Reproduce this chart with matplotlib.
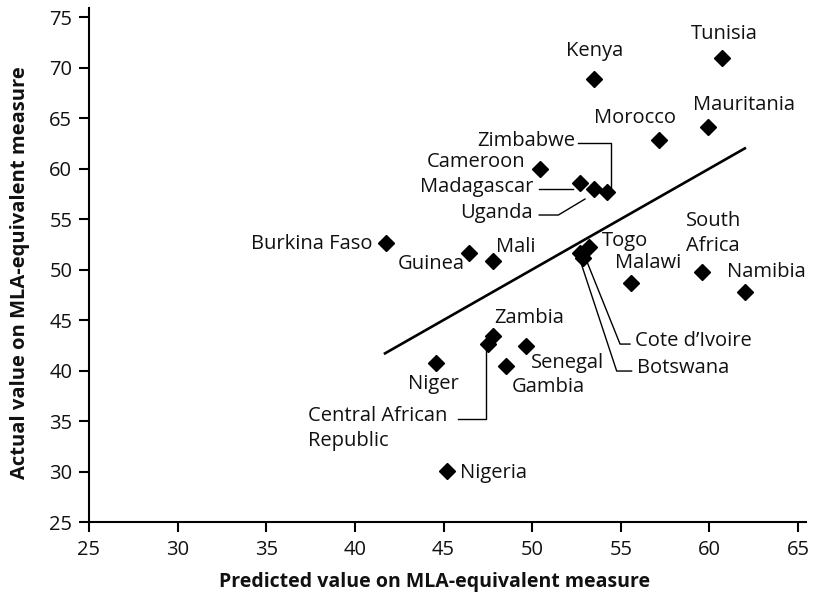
import matplotlib
matplotlib.use("Agg")
import matplotlib.pyplot as plt

plt.rcParams['font.family'] = ['Open Sans', 'DejaVu Sans']

countries = ["Tunisia", "Kenya", "Mauritania", "Morocco", "Zimbabwe", "Cameroon",
             "Madagascar", "Uganda", "Burkina Faso", "Guinea", "Mali", "Togo",
             "Cote d\u2019Ivoire", "Botswana", "Malawi", "South\nAfrica", "Namibia",
             "Zambia", "Central African\nRepublic", "Senegal", "Gambia", "Niger", "Nigeria"]
predicted = [60.7, 53.5, 59.9, 57.15, 54.2, 50.45, 52.7, 53.5, 41.75, 46.45, 47.8, 53.2,
             52.85, 52.7, 55.6, 59.6, 62.0, 47.8, 47.5, 49.65, 48.5, 44.6, 45.2]
actual = [70.9, 68.85, 64.1, 62.8, 57.7, 60.0, 58.6, 58.0, 52.65, 51.6, 50.8, 52.2,
          51.1, 51.6, 48.7, 49.8, 47.8, 43.4, 42.6, 42.4, 40.4, 40.7, 30.05]

# label anchor (data coords), horizontal alignment
label_pos = [(60.83, 73.32, 'center'), (53.5, 71.65, 'center'), (61.98, 66.3, 'center'),
             (55.78, 65.0, 'center'), (52.42, 62.72, 'right'), (46.81, 60.64, 'center'),
             (50.05, 58.17, 'right'), (50.05, 55.59, 'right'), (40.97, 52.55, 'right'),
             (44.32, 50.54, 'center'), (49.06, 52.26, 'center'), (55.24, 52.85, 'center'),
             (55.80, 42.92, 'left'), (55.92, 40.22, 'left'), (56.57, 50.61, 'center'),
             (58.68, 53.55, 'left'), (61.0, 49.75, 'left'), (49.85, 45.2, 'center'),
             (37.37, 34.28, 'left'), (52.02, 40.77, 'center'), (50.92, 38.40, 'center'),
             (44.41, 38.66, 'center'), (45.93, 29.88, 'left')]

# leader lines (data coords)
leaders = [
    [(52.61, 62.55), (54.43, 62.55), (54.43, 58.2)],            # Zimbabwe
    [(50.40, 57.97), (52.29, 57.97)],                          # Madagascar
    [(50.40, 55.40), (51.48, 55.40), (52.98, 56.98)],          # Uganda
    [(52.98, 51.27), (54.96, 42.62), (55.52, 42.62)],          # Cote d'Ivoire
    [(52.64, 51.27), (54.77, 39.95), (55.61, 39.95)],          # Botswana
    [(47.40, 42.2), (47.40, 35.17), (45.83, 35.17)],           # CAR
]

fit_x = [41.7, 62.0]
fit_y = [41.7, 62.0]

xticks = [25, 30, 35, 40, 45, 50, 55, 60, 65]
yticks = [25, 30, 35, 40, 45, 50, 55, 60, 65, 70, 75]

fig = plt.figure(figsize=(8.13, 6.0), dpi=100)
ax = fig.add_axes([89/813, 1-522/600, (806-89)/813, (522-8)/600])
ax.set_xlim(25, 65.45)
ax.set_ylim(25, 75.9)

ax.plot(fit_x, fit_y, color='black', lw=1.9, zorder=2)
ax.plot(predicted, actual, linestyle='none', marker='D', ms=8.2, color='black', zorder=3)

fs = 14.5
for name, (tx, ty, ha) in zip(countries, label_pos):
    ax.text(tx, ty, name, ha=ha, va='center', fontsize=fs, color='#111111',
            linespacing=1.35, zorder=4)

for seg in leaders:
    xs = [p[0] for p in seg]
    ys = [p[1] for p in seg]
    ax.plot(xs, ys, color='black', lw=1.0, zorder=1)

for s in ['top', 'right']:
    ax.spines[s].set_visible(False)
for s in ['left', 'bottom']:
    ax.spines[s].set_linewidth(1.5)
ax.set_xticks(xticks)
ax.set_yticks(yticks)
ax.tick_params(direction='out', length=7, width=1.5, labelsize=14.5, pad=5,
               labelcolor='#111111')
ax.tick_params(axis='x', pad=6)

ax.set_xlabel("Predicted value on MLA-equivalent measure", fontsize=14.0,
              fontweight='bold', color='#111111')
ax.set_ylabel("Actual value on MLA-equivalent measure", fontsize=14.5,
              fontweight='bold', color='#111111')
ax.xaxis.label.set_va('center')
ax.yaxis.label.set_va('center')
ax.xaxis.set_label_coords((435 - 89) / 717, (522 - 582) / 514)
ax.yaxis.set_label_coords((20 - 89) / 717, (522 - 273) / 514)

fig.savefig("out.png", dpi=100)
